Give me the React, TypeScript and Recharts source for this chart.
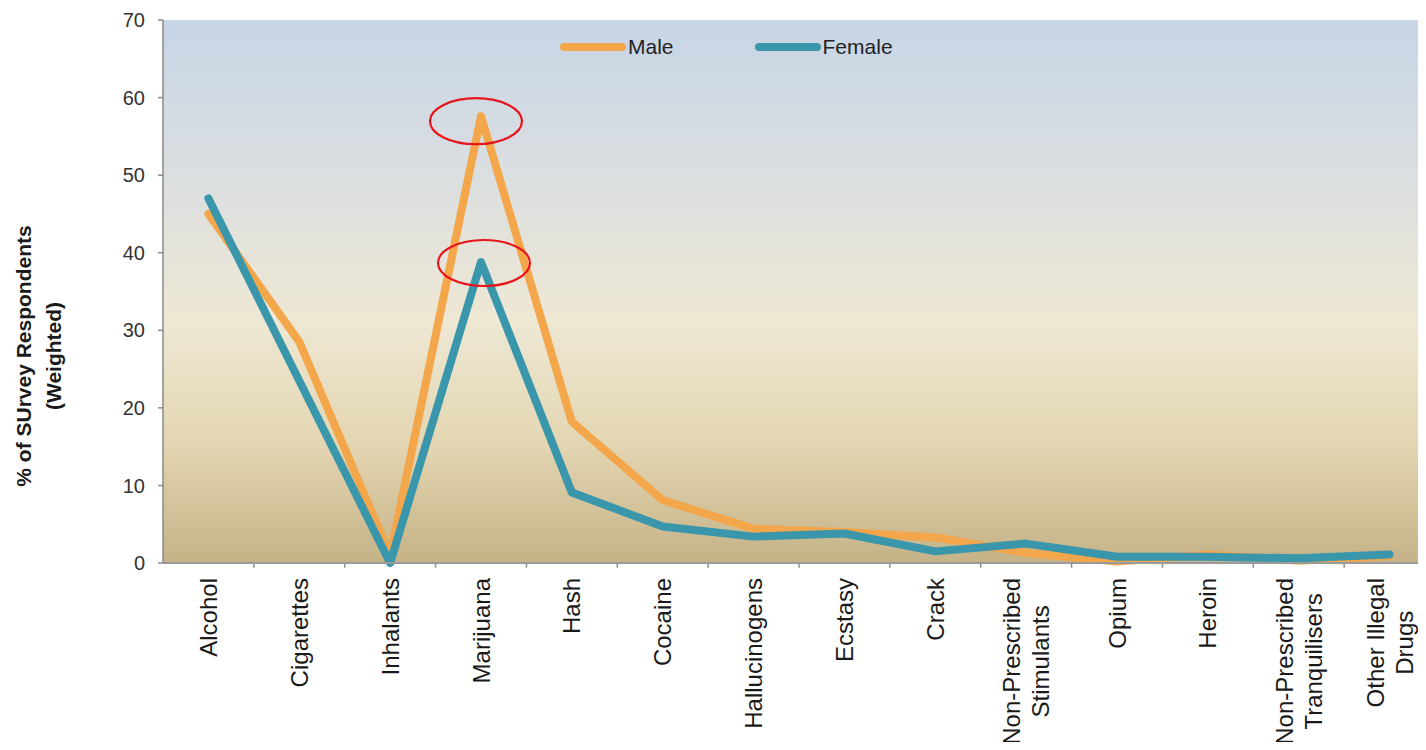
import React from 'react';
import {
  LineChart,
  Line,
  XAxis,
  YAxis,
  ReferenceArea,
  ReferenceLine,
  ReferenceDot,
} from 'recharts';

// categories on the x axis (split into lines for the rotated labels)
const categories = [
  'Alcohol',
  'Cigarettes',
  'Inhalants',
  'Marijuana',
  'Hash',
  'Cocaine',
  'Hallucinogens',
  'Ecstasy',
  'Crack',
  'Non-Prescribed Stimulants',
  'Opium',
  'Heroin',
  'Non-Prescribed Tranquilisers',
  'Other Illegal Drugs',
];
const labelLines = [
  ['Alcohol'],
  ['Cigarettes'],
  ['Inhalants'],
  ['Marijuana'],
  ['Hash'],
  ['Cocaine'],
  ['Hallucinogens'],
  ['Ecstasy'],
  ['Crack'],
  ['Non-Prescribed', 'Stimulants'],
  ['Opium'],
  ['Heroin'],
  ['Non-Prescribed', 'Tranquilisers'],
  ['Other Illegal', 'Drugs'],
];

// % of survey respondents (weighted)
const male = [45, 28.5, 1, 57.6, 18.2, 8.1, 4.4, 4.0, 3.3, 1.3, 0.2, 1.1, 0.3, 0.9];
const female = [47, 23.5, 0, 38.8, 9.1, 4.7, 3.4, 3.8, 1.5, 2.5, 0.8, 0.8, 0.6, 1.1];

const yTicks = [0, 10, 20, 30, 40, 50, 60, 70];

const MALE_COLOR = '#f4a64a';
const FEMALE_COLOR = '#3a96ab';
const FONT = '"Liberation Sans", Arial, sans-serif';

const data = categories.map((name, i) => ({
  idx: i,
  name,
  male: male[i],
  female: female[i],
}));

const xTicks = categories.map((_, i) => i);
const boundaries = categories.map((_, i) => i + 0.5);

// text width helper for centring the two-line labels
let ctx: CanvasRenderingContext2D | null = null;
function textWidth(s: string, font: string) {
  if (!ctx) ctx = document.createElement('canvas').getContext('2d');
  if (!ctx) return s.length * 12;
  ctx.font = font;
  return ctx.measureText(s).width;
}

function CategoryTick(props: any) {
  const { x, y, payload } = props;
  const lines = labelLines[payload.value] || [];
  const fs = 24;
  const lh = 29;
  const longest = Math.max(...lines.map((l) => textWidth(l, `${fs}px ${FONT}`)));
  const cy = y + longest / 2;
  return (
    <g transform={`translate(${x},${cy}) rotate(-90)`}>
      {lines.map((l, i) => (
        <text
          key={l}
          x={0}
          y={(i - (lines.length - 1) / 2) * lh}
          dy="0.36em"
          textAnchor="middle"
          fontSize={fs}
          fontFamily={FONT}
          fill="#1a1a1a"
        >
          {l}
        </text>
      ))}
    </g>
  );
}

function YTitle() {
  return (
    <g transform="translate(38,356) rotate(-90)">
      <text x={0} y={-15} dy="0.36em" textAnchor="middle" fontSize={21} fontWeight="bold" fontFamily={FONT} fill="#1a1a1a">
        % of SUrvey Respondents
      </text>
      <text x={0} y={15} dy="0.36em" textAnchor="middle" fontSize={21} fontWeight="bold" fontFamily={FONT} fill="#1a1a1a">
        (Weighted)
      </text>
    </g>
  );
}

function LegendBox() {
  const item = (label: string, color: string, mr: number) => (
    <div style={{ display: 'flex', alignItems: 'center', marginRight: mr }}>
      <div style={{ width: 66, height: 8, borderRadius: 4, background: color }} />
      <span style={{ fontFamily: FONT, fontSize: 21, color: '#222', marginLeft: 2 }}>{label}</span>
    </div>
  );
  return (
    <div style={{ position: 'absolute', top: 35, left: 560, display: 'flex' }}>
      {item('Male', MALE_COLOR, 81)}
      {item('Female', FEMALE_COLOR, 0)}
    </div>
  );
}

function Ellipse(props: any) {
  const { cx, cy, dx = 0, dy = 0 } = props;
  return (
    <ellipse cx={cx + dx} cy={cy + dy} rx={46} ry={23} fill="none" stroke="#e8141b" strokeWidth={2.2} />
  );
}

export default function App() {
  return (
    <div style={{ margin: -8, width: 1426, height: 750, overflow: 'hidden', background: '#fff', position: 'relative' }}>
      <LineChart width={1440} height={750} data={data} margin={{ top: 20, right: 5, bottom: 0, left: 0 }}>
        <defs>
          <linearGradient id="bgGrad" x1="0" y1="0" x2="0" y2="1">
            <stop offset="0%" stopColor="#c7d5e6" />
            <stop offset="30%" stopColor="#dcdfe0" />
            <stop offset="55%" stopColor="#eee8d4" />
            <stop offset="78%" stopColor="#e3d6b2" />
            <stop offset="100%" stopColor="#c5b287" />
          </linearGradient>
        </defs>
        <ReferenceArea x1={-0.5} x2={13.5} y1={0} y2={70} fill="url(#bgGrad)" fillOpacity={1} stroke="none" ifOverflow="visible" />
        <XAxis
          dataKey="idx"
          type="number"
          domain={[-0.5, 13.5]}
          ticks={xTicks}
          interval={0}
          height={187}
          tickLine={false}
          tickSize={0}
          tickMargin={15}
          tick={<CategoryTick />}
          axisLine={{ stroke: '#9a9a9a', strokeWidth: 2 }}
          allowDecimals
        />
        <YAxis
          domain={[0, 70]}
          ticks={yTicks}
          width={163}
          tickSize={5}
          tickMargin={13}
          axisLine={{ stroke: '#8a8a8a', strokeWidth: 1.5 }}
          tickLine={{ stroke: '#8a8a8a', strokeWidth: 1.5 }}
          tick={{ fontSize: 20, fontFamily: FONT, fill: '#333' }}
          label={<YTitle />}
        />
        {boundaries.map((b) => (
          <ReferenceLine
            key={b}
            segment={[
              { x: b, y: 0 },
              { x: b, y: -0.6 },
            ]}
            stroke="#8a8a8a"
            strokeWidth={1.5}
            ifOverflow="visible"
          />
        ))}
        <Line
          dataKey="male"
          name="Male"
          stroke={MALE_COLOR}
          strokeWidth={8}
          strokeLinejoin="round"
          strokeLinecap="round"
          dot={false}
          isAnimationActive={false}
        />
        <Line
          dataKey="female"
          name="Female"
          stroke={FEMALE_COLOR}
          strokeWidth={8}
          strokeLinejoin="round"
          strokeLinecap="round"
          dot={false}
          isAnimationActive={false}
        />
        <ReferenceDot x={3} y={male[3]} ifOverflow="visible" shape={<Ellipse dx={-5} dy={5} />} />
        <ReferenceDot x={3} y={female[3]} ifOverflow="visible" shape={<Ellipse dx={3} dy={1} />} />
      </LineChart>
      <LegendBox />
    </div>
  );
}
